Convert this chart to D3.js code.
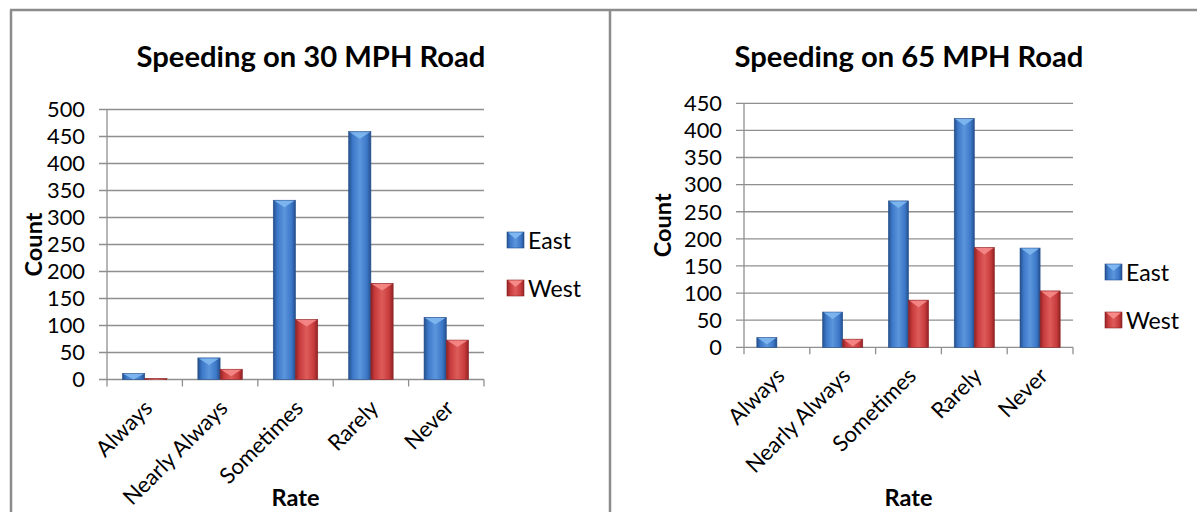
<!DOCTYPE html>
<html>
<head>
<meta charset="utf-8">
<script src="https://cdn.jsdelivr.net/npm/d3@7"></script>
<style>
  html, body { margin: 0; padding: 0; background: #ffffff; }
  svg { display: block; }
  text { font-family: Lato, "Open Sans", sans-serif; fill: #000; }
</style>
</head>
<body>
<svg id="chart" width="1197" height="512"></svg>
<script>
// ---------------- DATA ----------------
const categories = ["Always", "Nearly Always", "Sometimes", "Rarely", "Never"];
const seriesNames = ["East", "West"];
const east30 = [11, 40, 332, 459, 115];
const west30 = [2, 19, 111, 178, 73];
const east65 = [18, 65, 270, 422, 183];
const west65 = [0, 15, 87, 184, 104];
const ticks30 = [0, 50, 100, 150, 200, 250, 300, 350, 400, 450, 500];
const ticks65 = [0, 50, 100, 150, 200, 250, 300, 350, 400, 450];
const title30 = "Speeding on 30 MPH Road";
const title65 = "Speeding on 65 MPH Road";
const xTitle = "Rate";
const yTitle = "Count";

// ---------------- STYLE ----------------
const svg = d3.select("#chart");
const defs = svg.append("defs");
const palette = {
  East: { dark: "#244f8c", mid: "#3c78c8", light: "#5b95dc", bevel: "#7fb8f0" },
  West: { dark: "#8e2224", mid: "#c83b3c", light: "#dd5c5a", bevel: "#f58a88" }
};
seriesNames.forEach(s => {
  const g = defs.append("linearGradient").attr("id", "grad-" + s)
    .attr("x1", "0%").attr("x2", "100%").attr("y1", "0%").attr("y2", "0%");
  g.append("stop").attr("offset", "0%").attr("stop-color", palette[s].dark);
  g.append("stop").attr("offset", "18%").attr("stop-color", palette[s].mid);
  g.append("stop").attr("offset", "50%").attr("stop-color", palette[s].light);
  g.append("stop").attr("offset", "82%").attr("stop-color", palette[s].mid);
  g.append("stop").attr("offset", "100%").attr("stop-color", palette[s].dark);
});

// fit font-size so that a text reaches target width
function fitSize(str, weight, target) {
  const t = svg.append("text").attr("font-size", 20).attr("font-weight", weight).text(str);
  const w = t.node().getComputedTextLength();
  t.remove();
  return 20 * target / w;
}
const sizeTitle = fitSize(title30, "bold", 349);
const sizeTick = fitSize("500", "normal", 38);
const sizeLegend = fitSize("East", "normal", 43);
const sizeCount = fitSize(yTitle, "bold", 64);
const sizeRate = fitSize(xTitle, "bold", 48);
const sizeCat = fitSize("Nearly Always", "normal", 137);

// frame
const frameColor = "#8c8c8c";
svg.append("line").attr("x1", 10).attr("x2", 1197).attr("y1", 10).attr("y2", 10)
  .attr("stroke", frameColor).attr("stroke-width", 2.5);
svg.append("line").attr("x1", 11).attr("x2", 11).attr("y1", 10).attr("y2", 512)
  .attr("stroke", frameColor).attr("stroke-width", 2.5);
svg.append("line").attr("x1", 610).attr("x2", 610).attr("y1", 10).attr("y2", 512)
  .attr("stroke", frameColor).attr("stroke-width", 2.5);

function drawChart(cfg) {
  const g = svg.append("g");
  const x = d3.scaleBand().domain(categories).range([cfg.x0, cfg.x1])
    .paddingInner(cfg.pad).paddingOuter(cfg.pad / 2);
  const xs = d3.scaleBand().domain(seriesNames).range([0, x.bandwidth()]);
  const y = d3.scaleLinear().domain([0, d3.max(cfg.ticks)]).range([cfg.y0, cfg.y1]);
  const gridColor = "#8f8f8f";

  // gridlines + y ticks
  g.selectAll(".grid").data(cfg.ticks).enter().append("line")
    .attr("x1", cfg.x0 - 8).attr("x2", cfg.x1)
    .attr("y1", d => y(d)).attr("y2", d => y(d))
    .attr("stroke", gridColor).attr("stroke-width", 1.3);
  g.selectAll(".ytl").data(cfg.ticks).enter().append("text")
    .attr("x", cfg.x0 - 22).attr("y", d => y(d)).attr("dy", "0.36em")
    .attr("text-anchor", "end").attr("font-size", sizeTick).text(d => d);
  // y axis line
  g.append("line").attr("x1", cfg.x0).attr("x2", cfg.x0).attr("y1", cfg.y1).attr("y2", cfg.y0)
    .attr("stroke", gridColor).attr("stroke-width", 1.3);
  // x tick marks at category boundaries
  const step = x.step();
  const bounds = d3.range(categories.length + 1).map(i => cfg.x0 + i * step);
  g.selectAll(".xt").data(bounds).enter().append("line")
    .attr("x1", d => d).attr("x2", d => d).attr("y1", cfg.y0).attr("y2", cfg.y0 + 7)
    .attr("stroke", gridColor).attr("stroke-width", 1.3);

  // bars
  const rows = [];
  categories.forEach((c, i) => {
    rows.push({ c, s: "East", v: cfg.east[i] });
    rows.push({ c, s: "West", v: cfg.west[i] });
  });
  const bars = g.selectAll(".bar").data(rows.filter(d => d.v > 0)).enter().append("g");
  bars.append("rect")
    .attr("x", d => x(d.c) + xs(d.s))
    .attr("y", d => y(d.v))
    .attr("width", xs.bandwidth())
    .attr("height", d => cfg.y0 - y(d.v))
    .attr("fill", d => "url(#grad-" + d.s + ")")
    .attr("stroke", d => palette[d.s].dark).attr("stroke-width", 0.6);
  bars.append("polygon")
    .attr("points", d => {
      const bx = x(d.c) + xs(d.s), bw = xs.bandwidth(), by = y(d.v);
      const h = Math.min(7, cfg.y0 - by);
      return [[bx + 1, by + 0.5], [bx + bw - 1, by + 0.5], [bx + bw / 2, by + h]].map(p => p.join(",")).join(" ");
    })
    .attr("fill", d => palette[d.s].bevel).attr("opacity", 0.9);

  // category labels
  g.selectAll(".xl").data(categories).enter().append("text")
    .attr("transform", d => `translate(${x(d) + x.bandwidth() / 2 + 3},${cfg.y0 + 24}) rotate(-45)`)
    .attr("text-anchor", "end").attr("dominant-baseline", "central")
    .attr("font-size", sizeCat).text(d => d);

  // titles
  g.append("text").attr("x", cfg.titleX).attr("y", 55).attr("text-anchor", "middle")
    .attr("dominant-baseline", "central").attr("font-weight", "bold")
    .attr("font-size", sizeTitle).text(cfg.title);
  g.append("text").attr("transform", `translate(${cfg.countX},${(cfg.y0 + cfg.y1) / 2}) rotate(-90)`)
    .attr("text-anchor", "middle").attr("dominant-baseline", "central")
    .attr("font-weight", "bold").attr("font-size", sizeCount).text(yTitle);
  g.append("text").attr("x", (cfg.x0 + cfg.x1) / 2).attr("y", 497)
    .attr("text-anchor", "middle").attr("dominant-baseline", "central")
    .attr("font-weight", "bold").attr("font-size", sizeRate).text(xTitle);

  // legend
  seriesNames.forEach((s, i) => {
    const ly = cfg.legY[i];
    const lg = g.append("g");
    lg.append("rect").attr("x", cfg.legX).attr("y", ly - 8).attr("width", 17).attr("height", 16)
      .attr("fill", "url(#grad-" + s + ")").attr("stroke", palette[s].dark).attr("stroke-width", 0.6);
    lg.append("polygon")
      .attr("points", [[cfg.legX + 1, ly - 7.5], [cfg.legX + 16, ly - 7.5], [cfg.legX + 8.5, ly - 1]].map(p => p.join(",")).join(" "))
      .attr("fill", palette[s].bevel);
    lg.append("text").attr("x", cfg.legX + 21).attr("y", ly).attr("dominant-baseline", "central")
      .attr("font-size", sizeLegend).text(s);
  });
}

drawChart({
  x0: 107, x1: 484, y0: 379.5, y1: 109.5, ticks: ticks30, pad: 0.41,
  east: east30, west: west30, title: title30, titleX: 311, countX: 33,
  legX: 507, legY: [240, 288]
});
drawChart({
  x0: 744, x1: 1073, y0: 347.3, y1: 103.3, ticks: ticks65, pad: 0.39,
  east: east65, west: west65, title: title65, titleX: 909, countX: 662,
  legX: 1105, legY: [272, 320]
});
</script>
</body>
</html>
